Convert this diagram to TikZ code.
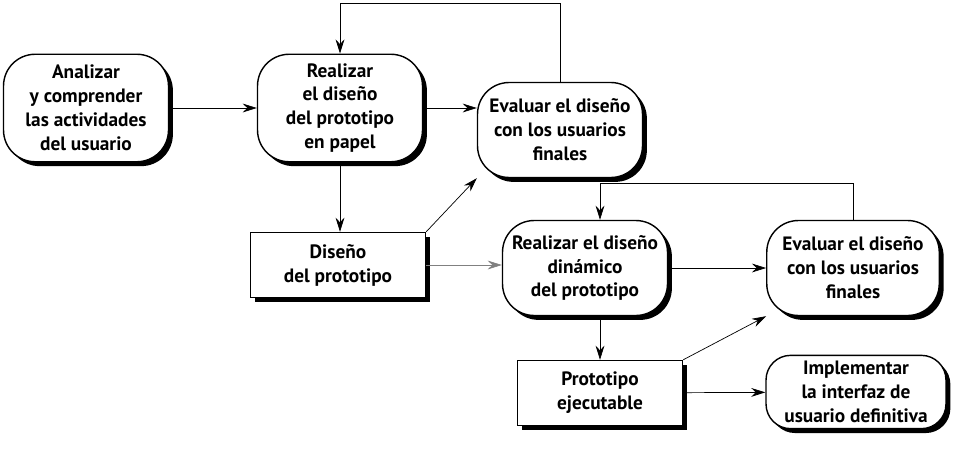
\documentclass[tikz,border=0pt]{standalone}
\usepackage{fontspec}
\setmainfont{PT Sans}
\usetikzlibrary{shadows,arrows.meta}

\tikzset{
	roundbox/.style={draw, thick, fill=white, rounded corners=18pt, align=center, minimum width=3.3cm, minimum height=2.0cm,
		font=\fontsize{11}{13.6}\selectfont\bfseries, drop shadow={shadow xshift=2.5pt, shadow yshift=-2.5pt, fill=black, opacity=1}},
	rectbox/.style={draw, thick, fill=white, align=center, minimum width=3.5cm, minimum height=1.3cm,
		font=\fontsize{11}{13.6}\selectfont\bfseries, drop shadow={shadow xshift=2.5pt, shadow yshift=-2.5pt, fill=black, opacity=1}},
	flow/.style={->, >={Stealth[length=8pt, width=5pt]}}
}

\begin{document}
\begin{tikzpicture}[x=0.02cm, y=-0.02cm]

	\useasboundingbox (0,0) rectangle (959,450);

	\node[roundbox, minimum height=2.15cm] (analizar) at (86,108) {Analizar\\y comprender\\las actividades\\del usuario};
	\node[roundbox, minimum height=2.15cm] (papel) at (340,108) {Realizar\\el diseño\\del prototipo\\en papel};
	\node[roundbox, minimum height=1.9cm] (evaluar1) at (560,130) {Evaluar el diseño\\con los usuarios\\finales};
	\node[rectbox] (diseno) at (338,265) {Diseño\\del prototipo};
	\node[roundbox, minimum height=1.9cm] (dinamico) at (585,268) {Realizar el diseño\\dinámico\\del prototipo};
	\node[roundbox, minimum height=1.9cm, minimum width=3.45cm] (evaluar2) at (853,268) {Evaluar el diseño\\con los usuarios\\finales};
	\node[rectbox, minimum width=3.3cm] (ejecutable) at (600,393) {Prototipo\\ejecutable};
	\node[roundbox, minimum height=1.45cm, minimum width=3.6cm, rounded corners=14pt] (implementar) at (856,392) {Implementar\\la interfaz de\\usuario definitiva};

	\coordinate (topA) at (340,3);
	\coordinate (topB) at (600,183);

	\draw[flow] (analizar) -- (papel);
	\draw[flow] (papel.east) -- (papel.east -| evaluar1.west);
	\draw[flow] (papel.south) -- (papel.south |- diseno.north);
	\draw[flow] (diseno.north east) -- (evaluar1.south west);
	\draw[flow] (evaluar1.north) |- (topA) -- (papel.north);
	\draw[flow, gray] (diseno.east) -- (diseno.east -| dinamico.west);
	\draw[flow] (dinamico) -- (evaluar2);
	\draw[flow] (evaluar2.north) |- (topB) -- (dinamico.north -| topB);
	\draw[flow] (dinamico.south -| topB) -- (ejecutable.north -| topB);
	\draw[flow] (ejecutable.north east) -- (evaluar2.south west);
	\draw[flow] (ejecutable) -- (implementar);

\end{tikzpicture}
\end{document}
